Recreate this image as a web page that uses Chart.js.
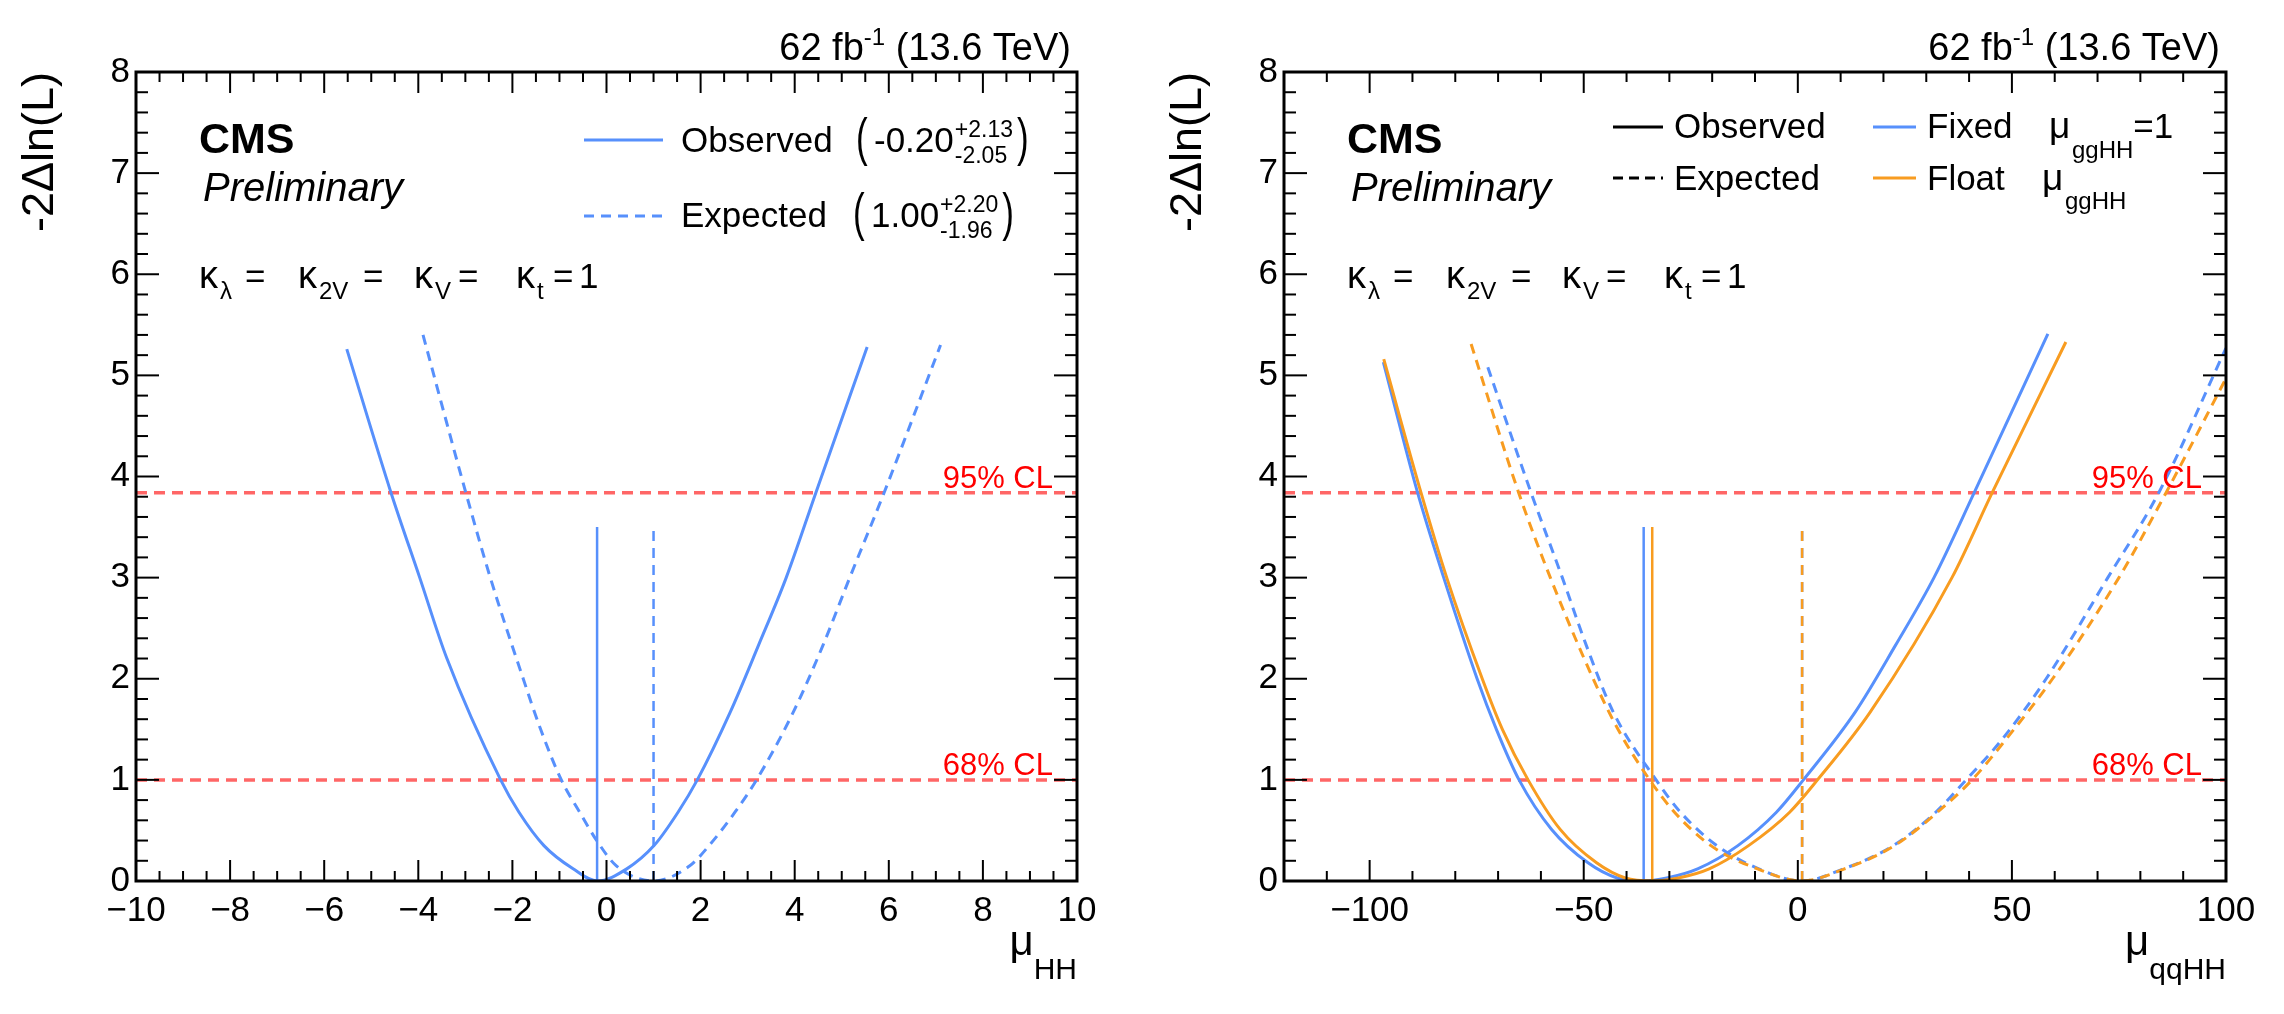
<!DOCTYPE html>
<html>
<head>
<meta charset="utf-8">
<script src="https://cdn.jsdelivr.net/npm/chart.js@4.4.1/dist/chart.umd.min.js"></script>
<style>
html, body { margin: 0; padding: 0; background: #fff; }
#wrap { position: relative; width: 2284px; height: 1014px; overflow: hidden; }
canvas { position: absolute; top: 0; }
</style>
</head>
<body>
<div id="wrap">
  <canvas id="left" width="1140" height="1014" style="left:0"></canvas>
  <canvas id="right" width="1144" height="1014" style="left:1140px"></canvas>
</div>
<script>
"use strict";

// ---- data ----
// left panel: scan of mu_HH
var hhObsX = [-5.52, -4.58, -3.97, -3.40, -2.25, -1.86, -1.33, -0.71, -0.20, 0.43, 1.01, 1.52, 1.93, 2.63, 3.23, 3.82, 4.45, 5.54];
var hhObsY = [5.26, 3.84, 3.00, 2.21, 1.00, 0.68, 0.35, 0.12, 0.00, 0.12, 0.35, 0.68, 1.00, 1.67, 2.33, 3.00, 3.84, 5.28];
var hhExpX = [-3.90, -2.99, -2.47, -1.77, -1.40, -0.96, -0.57, -0.18, 0.21, 1.00, 1.77, 2.18, 2.73, 3.19, 3.97, 4.60, 5.17, 5.90, 7.10];
var hhExpY = [5.40, 3.84, 3.00, 2.00, 1.50, 1.00, 0.68, 0.38, 0.15, 0.00, 0.15, 0.35, 0.68, 1.00, 1.67, 2.33, 3.00, 3.84, 5.30];
var hhBestFit = [-0.20, 1.00];          // observed, expected

// right panel: scan of mu_qqHH, mu_ggHH fixed or floating
var qqFixObsX = [-96.8, -88.8, -82.7, -74.9, -70.4, -65.1, -57.5, -49.0, -42.2, -36.0, -30.6, -23.4, -14.0, -5.0, 1.3, 13.4, 22.8, 31.8, 41.2, 58.4];
var qqFixObsY = [5.13, 3.84, 3.00, 2.00, 1.50, 1.00, 0.51, 0.18, 0.03, 0.00, 0.03, 0.12, 0.35, 0.68, 1.00, 1.67, 2.33, 3.00, 3.84, 5.41];
var qqFltObsX = [-96.7, -88.0, -82.0, -73.7, -69.0, -63.0, -55.5, -47.0, -40.3, -34.0, -27.9, -20.7, -11.5, -1.9, 4.6, 16.9, 36.0, 45.4, 62.6];
var qqFltObsY = [5.16, 3.84, 3.00, 2.00, 1.50, 1.00, 0.51, 0.18, 0.03, 0.00, 0.03, 0.12, 0.35, 0.68, 1.00, 1.67, 3.00, 3.84, 5.33];
var qqFixExpX = [-72.4, -62.3, -55.0, -49.4, -43.1, -33.1, -27.4, -18.9, -9.1, 1.0, 10.7, 22.3, 32.2, 39.3, 47.7, 58.0, 72.4, 84.3, 100.0];
var qqFixExpY = [5.08, 3.84, 3.00, 2.33, 1.67, 1.00, 0.68, 0.35, 0.12, 0.00, 0.12, 0.35, 0.68, 1.00, 1.40, 2.00, 3.00, 3.84, 5.27];
var qqFltExpX = [-76.3, -65.2, -57.8, -47.8, -42.0, -34.6, -28.8, -20.3, -9.4, 1.0, 10.9, 22.6, 32.6, 40.7, 48.6, 59.5, 75.0, 86.0, 100.0];
var qqFltExpY = [5.31, 3.84, 3.00, 2.00, 1.50, 1.00, 0.68, 0.35, 0.12, 0.00, 0.12, 0.35, 0.68, 1.00, 1.40, 2.00, 3.00, 3.84, 4.97];
var qqBestFit = [-36.0, -34.0, 1.0, 1.0]; // fixed obs, float obs, fixed exp, float exp

var markerTop = 3.5;
var clLevels = [1.0, 3.84];
var clLabels = ["68% CL", "95% CL"];

var hhTicks = [-10, -8, -6, -4, -2, 0, 2, 4, 6, 8, 10];
var qqTicks = [-100, -50, 0, 50, 100];
var yTicks = [0, 1, 2, 3, 4, 5, 6, 7, 8];

// ---- style ----
var FONT = '"Liberation Sans", Arial, Helvetica, sans-serif';
var BLUE = "#5790fc";
var ORANGE = "#f89c20";
var CLRED = "rgba(255, 0, 0, 0.6)";
var DASH = [10, 7];

function pts(xs, ys) {
  return xs.map(function (x, i) { return { x: x, y: ys[i] }; });
}

function curve(xs, ys, color, dashed, order) {
  return {
    data: pts(xs, ys),
    borderColor: color,
    borderWidth: 3,
    borderDash: dashed ? DASH : [],
    pointRadius: 0,
    cubicInterpolationMode: "monotone",
    fill: false,
    order: order,
  };
}

function marker(x, color, dashed, order) {
  return {
    data: [{ x: x, y: 0 }, { x: x, y: markerTop }],
    borderColor: color,
    borderWidth: 2.5,
    borderDash: dashed ? DASH : [],
    pointRadius: 0,
    tension: 0,
    fill: false,
    order: order,
  };
}

function clLine(xMin, xMax, level) {
  return {
    data: [{ x: xMin, y: level }, { x: xMax, y: level }],
    borderColor: CLRED,
    borderWidth: 3.5,
    borderDash: [11, 7],
    pointRadius: 0,
    tension: 0,
    fill: false,
    order: 50,
  };
}

function fmtMinus(v) {
  return v < 0 ? "\u2212" + Math.abs(v) : String(v);
}

function txt(ctx, s, x, y, size, style, align, color) {
  ctx.font = (style || "") + " " + size + "px " + FONT;
  ctx.fillStyle = color || "#000";
  ctx.textAlign = align || "left";
  ctx.textBaseline = "alphabetic";
  ctx.fillText(s, x, y);
  return ctx.measureText(s).width;
}

function width(ctx, s, size, style) {
  ctx.font = (style || "") + " " + size + "px " + FONT;
  return ctx.measureText(s).width;
}

function seg(ctx, x1, y1, x2, y2) {
  ctx.beginPath();
  ctx.moveTo(x1, y1);
  ctx.lineTo(x2, y2);
  ctx.stroke();
}

function bigParen(ctx, ch, x, yMid) {
  ctx.save();
  ctx.translate(x, yMid);
  ctx.scale(1, 1.5);
  ctx.font = "35px " + FONT;
  ctx.fillStyle = "#000";
  ctx.textAlign = "left";
  ctx.textBaseline = "middle";
  ctx.fillText(ch, 0, 0);
  ctx.restore();
}

function innerTicks(ctx, a, scale, from, to, minor, major, lenMaj, lenMin, horizontal) {
  var n = Math.round((to - from) / minor);
  for (var i = 0; i <= n; i++) {
    var v = from + i * minor;
    var isMaj = Math.abs(v / major - Math.round(v / major)) < 1e-6;
    var len = isMaj ? lenMaj : lenMin;
    var p = scale.getPixelForValue(v);
    if (horizontal) {
      seg(ctx, p, a.bottom, p, a.bottom - len);
      seg(ctx, p, a.top, p, a.top + len);
    } else {
      seg(ctx, a.left, p, a.left + len, p);
      seg(ctx, a.right, p, a.right - len, p);
    }
  }
}

// legend, left panel
function legendHH(ctx, a) {
  ctx.lineWidth = 3;
  ctx.strokeStyle = BLUE;
  ctx.setLineDash([]);
  seg(ctx, a.left + 448, a.top + 68, a.left + 527, a.top + 68);
  ctx.setLineDash(DASH);
  seg(ctx, a.left + 448, a.top + 144, a.left + 527, a.top + 144);
  ctx.setLineDash([]);

  txt(ctx, "Observed", a.left + 545, a.top + 80, 35);
  txt(ctx, "Expected", a.left + 545, a.top + 155, 35);

  var rows = [
    { c: "-0.20", up: "+2.13", dn: "-2.05", x: a.left + 720, base: a.top + 80 },
    { c: "1.00", up: "+2.20", dn: "-1.96", x: a.left + 717, base: a.top + 155 },
  ];
  rows.forEach(function (r) {
    bigParen(ctx, "(", r.x, r.base - 11);
    var x = r.x + 18;
    x += txt(ctx, r.c, x, r.base, 35);
    var w1 = txt(ctx, r.up, x + 1, r.base - 15, 23);
    var w2 = txt(ctx, r.dn, x + 1, r.base + 11, 23);
    bigParen(ctx, ")", x + Math.max(w1, w2) + 5, r.base - 11);
  });
}

// legend, right panel
function legendQQ(ctx, a) {
  ctx.lineWidth = 3;
  ctx.strokeStyle = "#000";
  ctx.setLineDash([]);
  seg(ctx, a.left + 329, a.top + 55, a.left + 379, a.top + 55);
  ctx.setLineDash([10, 6]);
  seg(ctx, a.left + 329, a.top + 106, a.left + 379, a.top + 106);
  ctx.setLineDash([]);
  txt(ctx, "Observed", a.left + 390, a.top + 66, 35);
  txt(ctx, "Expected", a.left + 390, a.top + 118, 35);

  ctx.strokeStyle = BLUE;
  seg(ctx, a.left + 589, a.top + 55, a.left + 632, a.top + 55);
  ctx.strokeStyle = ORANGE;
  seg(ctx, a.left + 589, a.top + 106, a.left + 632, a.top + 106);

  txt(ctx, "Fixed", a.left + 643, a.top + 66, 35);
  txt(ctx, "\u03bc", a.left + 765, a.top + 66, 37);
  var w = txt(ctx, "ggHH", a.left + 788, a.top + 86, 24);
  txt(ctx, "=1", a.left + 788 + w, a.top + 66, 35);

  txt(ctx, "Float", a.left + 643, a.top + 118, 35);
  txt(ctx, "\u03bc", a.left + 758, a.top + 118, 37);
  txt(ctx, "ggHH", a.left + 781, a.top + 137, 24);
}

function decor(p) {
  return {
    id: "decor_" + p.id,
    afterDraw: function (chart) {
      var ctx = chart.ctx;
      var a = chart.chartArea;
      var xs = chart.scales.x;
      var ys = chart.scales.y;
      ctx.save();

      // frame and inner ticks on all four sides
      ctx.strokeStyle = "#000";
      ctx.setLineDash([]);
      ctx.lineWidth = 2;
      innerTicks(ctx, a, xs, p.xMin, p.xMax, p.xMinor, p.xMajor, 21, 10, true);
      innerTicks(ctx, a, ys, 0, 8, 0.2, 1, 23, 12, false);
      ctx.lineWidth = 3;
      ctx.strokeRect(a.left, a.top, a.right - a.left, a.bottom - a.top);

      // CL labels
      clLevels.forEach(function (lv, i) {
        txt(ctx, clLabels[i], a.right - 24, ys.getPixelForValue(lv) - 5, 31, "", "right", "#ff0000");
      });

      // luminosity
      var wa = width(ctx, "62 fb", 38);
      var wb = width(ctx, "-1", 24);
      var wc = width(ctx, " (13.6 TeV)", 38);
      var x0 = a.right - 6 - (wa + wb + wc);
      txt(ctx, "62 fb", x0, a.top - 12, 38);
      txt(ctx, "-1", x0 + wa, a.top - 27, 24);
      txt(ctx, " (13.6 TeV)", x0 + wa + wb, a.top - 12, 38);

      // y title
      ctx.save();
      ctx.translate(a.left - 95, a.top);
      ctx.rotate(-Math.PI / 2);
      ctx.font = "45px " + FONT;
      ctx.fillStyle = "#000";
      ctx.textAlign = "right";
      ctx.textBaseline = "middle";
      ctx.fillText("-2\u0394ln(L)", 0, 0);
      ctx.restore();

      // x title
      var wm = width(ctx, "\u03bc", 42);
      var ws = width(ctx, p.xSub, 30);
      txt(ctx, "\u03bc", a.right - wm - ws, a.bottom + 74, 42);
      txt(ctx, p.xSub, a.right - ws, a.bottom + 98, 30);

      // CMS label
      txt(ctx, "CMS", a.left + 63, a.top + 81, 43, "bold");
      txt(ctx, "Preliminary", a.left + 67, a.top + 129, 40, "italic");

      // coupling line
      var kb = a.top + 216;
      var kap = [
        { x: 63, sub: "\u03bb", eq: 109 },
        { x: 162, sub: "2V", eq: 227 },
        { x: 278, sub: "V", eq: 322 },
        { x: 380, sub: "t", eq: 417 },
      ];
      kap.forEach(function (k) {
        var w = txt(ctx, "\u03ba", a.left + k.x, kb, 38);
        txt(ctx, k.sub, a.left + k.x + w + 2, kb + 11, 24);
        txt(ctx, "=", a.left + k.eq, kb, 35);
      });
      txt(ctx, "1", a.left + 443, kb, 35);

      p.legend(ctx, a);
      ctx.restore();
    },
  };
}

function buildPanel(canvasId, p) {
  return new Chart(document.getElementById(canvasId), {
    type: "line",
    data: { datasets: p.datasets },
    options: {
      responsive: false,
      animation: false,
      devicePixelRatio: 1,
      layout: { padding: { left: 0, right: p.padRight, top: 72, bottom: 0 } },
      plugins: { legend: { display: false }, tooltip: { enabled: false } },
      scales: {
        x: {
          type: "linear",
          min: p.xMin,
          max: p.xMax,
          grid: { display: false, drawTicks: false },
          border: { display: false },
          afterBuildTicks: function (s) { s.ticks = p.xTicks.map(function (v) { return { value: v }; }); },
          afterFit: function (s) { s.height = 133; },
          ticks: {
            font: { family: FONT, size: 35 }, color: "#000", padding: 9,
            maxRotation: 0, autoSkip: false, callback: fmtMinus,
          },
        },
        y: {
          type: "linear",
          min: 0,
          max: 8,
          grid: { display: false, drawTicks: false },
          border: { display: false },
          afterBuildTicks: function (s) { s.ticks = yTicks.map(function (v) { return { value: v }; }); },
          afterFit: function (s) { s.width = p.yWidth; },
          ticks: { font: { family: FONT, size: 35 }, color: "#000", padding: 6, autoSkip: false },
        },
      },
    },
    plugins: [decor(p)],
  });
}

var hhPanel = {
  id: "hh", xMin: -10, xMax: 10, xMinor: 0.5, xMajor: 2, xTicks: hhTicks,
  xSub: "HH", padRight: 63, yWidth: 136, legend: legendHH,
  datasets: [
    curve(hhObsX, hhObsY, BLUE, false, 1),
    curve(hhExpX, hhExpY, BLUE, true, 2),
    marker(hhBestFit[0], BLUE, false, 3),
    marker(hhBestFit[1], BLUE, true, 4),
    clLine(-10, 10, clLevels[0]),
    clLine(-10, 10, clLevels[1]),
  ],
};

var qqPanel = {
  id: "qq", xMin: -120, xMax: 100, xMinor: 10, xMajor: 50, xTicks: qqTicks,
  xSub: "qqHH", padRight: 58, yWidth: 144, legend: legendQQ,
  datasets: [
    curve(qqFltObsX, qqFltObsY, ORANGE, false, 1),
    curve(qqFltExpX, qqFltExpY, ORANGE, true, 2),
    marker(qqBestFit[1], ORANGE, false, 3),
    marker(qqBestFit[3], ORANGE, true, 4),
    curve(qqFixObsX, qqFixObsY, BLUE, false, 5),
    curve(qqFixExpX, qqFixExpY, BLUE, true, 6),
    marker(qqBestFit[0], BLUE, false, 7),
    marker(qqBestFit[2], BLUE, true, 8),
    clLine(-120, 100, clLevels[0]),
    clLine(-120, 100, clLevels[1]),
  ],
};

buildPanel("left", hhPanel);
buildPanel("right", qqPanel);
</script>
</body>
</html>
